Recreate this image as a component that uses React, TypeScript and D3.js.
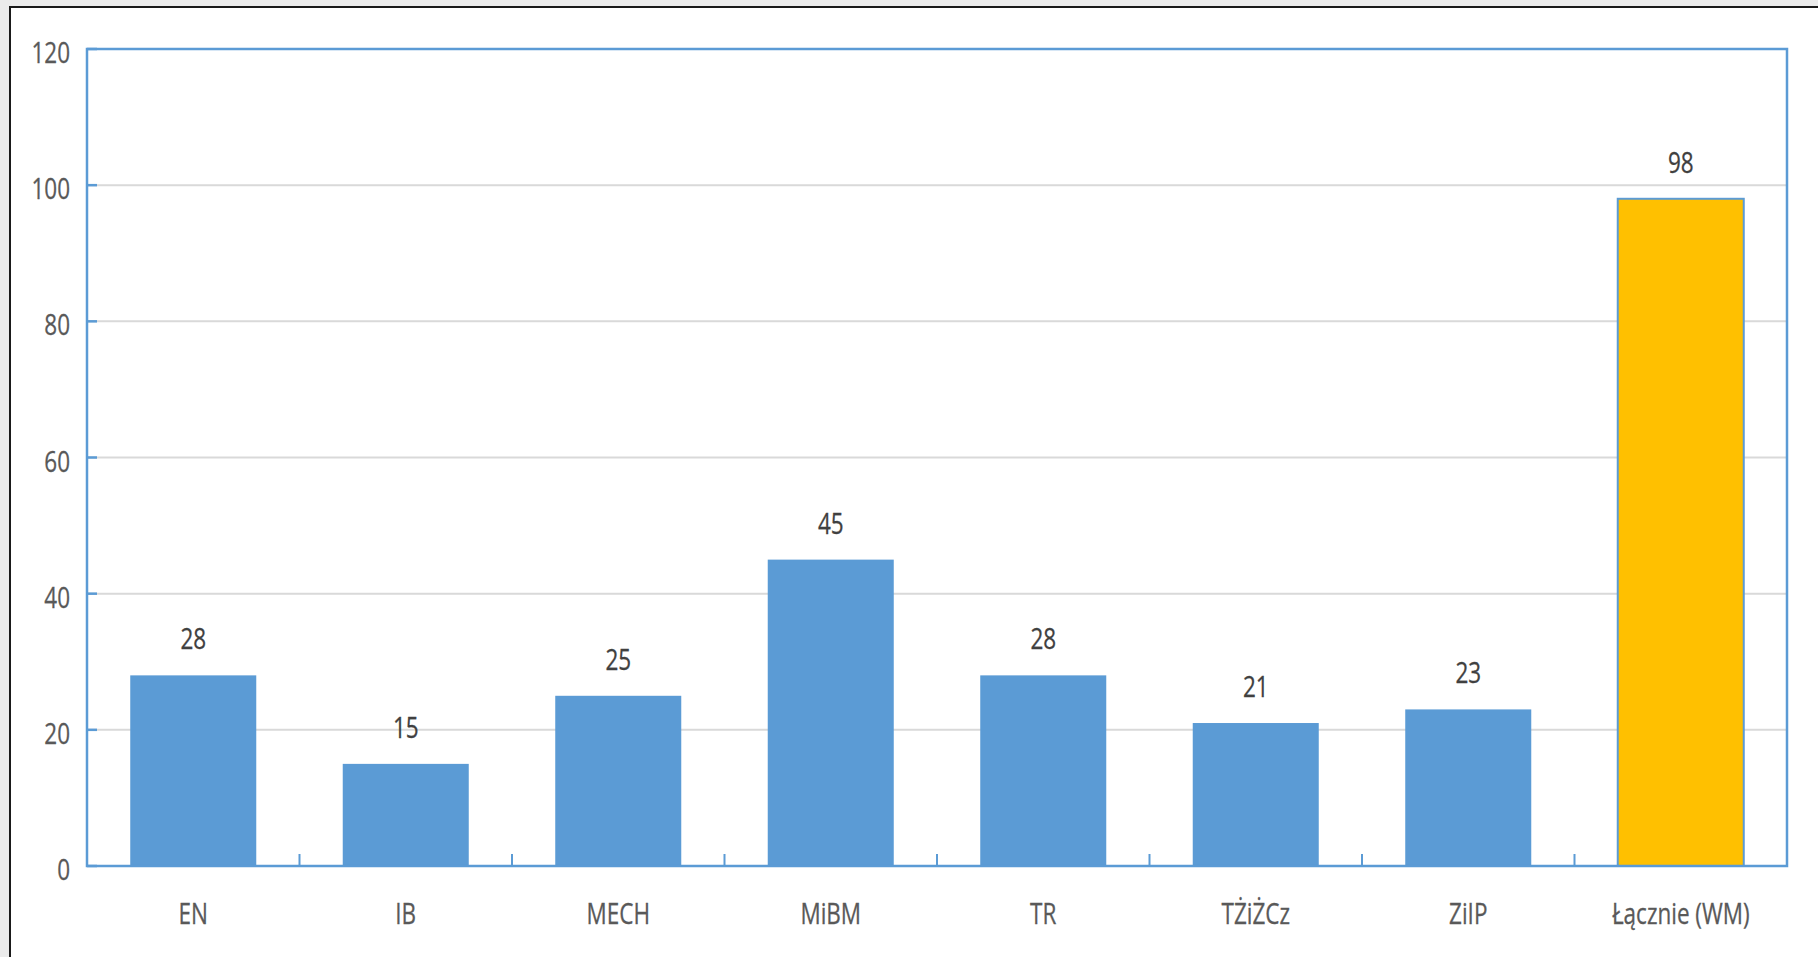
import React from "react";
import * as d3 from "d3";

const categories = ["EN", "IB", "MECH", "MiBM", "TR", "TŻiŻCz", "ZiIP", "Łącznie (WM)"];
const values = [28, 15, 25, 45, 28, 21, 23, 98];
const barColors = ["#5b9bd5", "#5b9bd5", "#5b9bd5", "#5b9bd5", "#5b9bd5", "#5b9bd5", "#5b9bd5", "#ffc000"];
const yTicks = [0, 20, 40, 60, 80, 100, 120];

const W = 1818;
const H = 957;
const left = 87;
const right = 1787;
const top = 49;
const bottom = 866;
const BLUE = "#5b9bd5";
const TEXT = "#595959";
const FONT = "'Open Sans', sans-serif";
const FS = 30;
const SX = 0.75;

export default function App() {
  const x = d3.scaleBand<string>().domain(categories).range([left, right]).padding(0);
  const y = d3.scaleLinear().domain([0, 120]).range([bottom, top]);
  const bw = x.bandwidth() * 0.593;

  const txt = (s: string, tx: number, ty: number, anchor: string, key: string, color = TEXT) => (
    <text
      key={key}
      transform={`translate(${tx},${ty}) scale(${SX},1)`}
      textAnchor={anchor}
      fontFamily={FONT}
      fontSize={FS}
      fill={color}
      stroke={color}
      strokeWidth={0.3}
    >
      {s}
    </text>
  );

  return (
    <svg
      width={W}
      height={H}
      style={{ position: "absolute", left: 0, top: 0, display: "block" }}
    >
      <rect x={0} y={0} width={W} height={H} fill="#ebebeb" />
      <rect x={10} y={7} width={W} height={H} fill="#ffffff" stroke="#1a1a1a" strokeWidth={2} />

      {/* gridlines */}
      {yTicks
        .filter((t) => t > 0 && t < 120)
        .map((t) => (
          <line key={"g" + t} x1={left} x2={right} y1={y(t)} y2={y(t)} stroke="#d9d9d9" strokeWidth={2} />
        ))}

      {/* bars */}
      {categories.map((c, i) => {
        const cx = (x(c) as number) + x.bandwidth() / 2;
        const isLast = i === categories.length - 1;
        return (
          <rect
            key={"b" + c}
            x={cx - bw / 2}
            y={y(values[i])}
            width={bw}
            height={bottom - y(values[i])}
            fill={barColors[i]}
            stroke={isLast ? BLUE : "none"}
            strokeWidth={isLast ? 2 : 0}
          />
        );
      })}

      {/* plot frame */}
      <rect x={left} y={top} width={right - left} height={bottom - top} fill="none" stroke={BLUE} strokeWidth={2.5} />

      {/* y ticks (inside) */}
      {yTicks.map((t) => (
        <line key={"yt" + t} x1={left} x2={left + 10} y1={y(t)} y2={y(t)} stroke={BLUE} strokeWidth={2.5} />
      ))}

      {/* x ticks (inside, at band boundaries) */}
      {categories.slice(1).map((c) => (
        <line key={"xt" + c} x1={x(c) as number} x2={x(c) as number} y1={bottom} y2={bottom - 12} stroke={BLUE} strokeWidth={2} />
      ))}

      {/* y labels */}
      {yTicks.map((t) => txt(String(t), 70, y(t) + 14, "end", "yl" + t))}

      {/* x labels */}
      {categories.map((c) => txt(c, (x(c) as number) + x.bandwidth() / 2, 924, "middle", "xl" + c))}

      {/* value labels */}
      {categories.map((c, i) =>
        txt(String(values[i]), (x(c) as number) + x.bandwidth() / 2, y(values[i]) - 26, "middle", "vl" + c, "#404040")
      )}
    </svg>
  );
}
